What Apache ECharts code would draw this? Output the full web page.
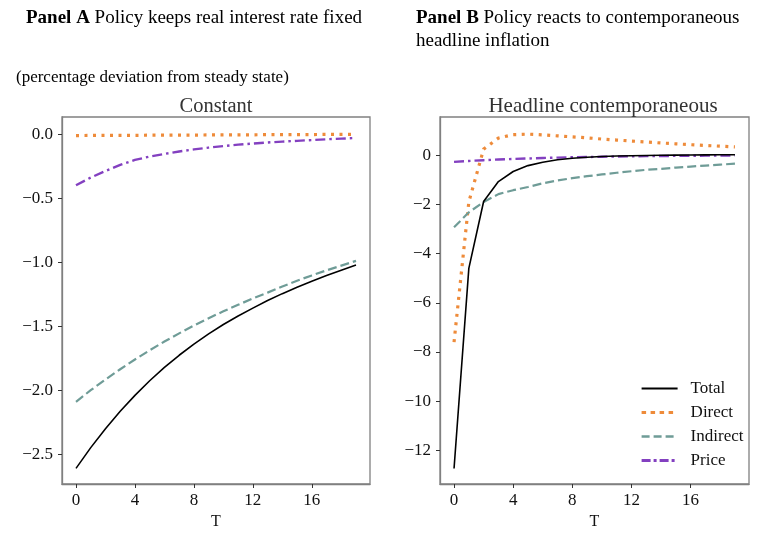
<!DOCTYPE html>
<html>
<head>
<meta charset="utf-8">
<script src="https://cdn.jsdelivr.net/npm/echarts@6/dist/echarts.min.js"></script>
<style>html,body{margin:0;padding:0;background:#fff}#c{width:781px;height:543px}</style>
</head>
<body>
<div id="c"></div>
<script>
// ---- data ----
const T = [0,1,2,3,4,5,6,7,8,9,10,11,12,13,14,15,16,17,18,19];
const xTicks = [0,4,8,12,16];

// Panel A: Constant
const totalA    = [-2.610,-2.448,-2.300,-2.164,-2.040,-1.926,-1.822,-1.727,-1.640,-1.560,-1.487,-1.420,-1.359,-1.300,-1.246,-1.196,-1.150,-1.105,-1.063,-1.023];
const directA   = [-0.012,-0.011,-0.011,-0.010,-0.010,-0.009,-0.009,-0.008,-0.008,-0.007,-0.007,-0.006,-0.006,-0.005,-0.005,-0.004,-0.004,-0.003,-0.003,-0.002];
const indirectA = [-2.090,-2.000,-1.916,-1.836,-1.760,-1.688,-1.620,-1.556,-1.495,-1.438,-1.384,-1.333,-1.284,-1.238,-1.190,-1.145,-1.104,-1.064,-1.027,-0.990];
const priceA    = [-0.400,-0.340,-0.288,-0.241,-0.202,-0.176,-0.155,-0.136,-0.120,-0.106,-0.094,-0.083,-0.074,-0.066,-0.059,-0.053,-0.047,-0.041,-0.036,-0.031];
const yTicksA   = [0,-0.5,-1,-1.5,-2,-2.5];

// Panel B: Headline contemporaneous
const totalB    = [-12.74,-4.60,-1.88,-1.07,-0.66,-0.42,-0.28,-0.18,-0.12,-0.08,-0.05,-0.03,-0.02,-0.01,0.00,0.005,0.01,0.015,0.02,0.02];
const directB   = [-7.60,-1.90,0.25,0.70,0.84,0.86,0.83,0.79,0.75,0.71,0.66,0.62,0.58,0.54,0.50,0.465,0.43,0.40,0.37,0.34];
const indirectB = [-2.93,-2.32,-1.90,-1.58,-1.42,-1.29,-1.14,-1.02,-0.93,-0.85,-0.78,-0.71,-0.65,-0.59,-0.55,-0.50,-0.46,-0.42,-0.38,-0.34];
const priceB    = [-0.27,-0.23,-0.20,-0.17,-0.15,-0.13,-0.11,-0.095,-0.08,-0.07,-0.06,-0.05,-0.04,-0.035,-0.03,-0.025,-0.02,-0.015,-0.01,-0.005];
const yTicksB   = [0,-2,-4,-6,-8,-10,-12];

const names = ['Total','Direct','Indirect','Price'];

// ---- styles ----
const FONT = 'Liberation Serif';
const styles = {
  Total:    {color:'#000000', width:1.6, type:'solid'},
  Direct:   {color:'#EE8B3A', width:3.2, type:[3,5.5]},
  Indirect: {color:'#6F9C97', width:2.2, type:[9,4]},
  Price:    {color:'#8340C0', width:2.4, type:[10,4,2.5,4]}
};
const legendStyles = {
  Total:    {color:'#000000', width:2, type:'solid'},
  Direct:   {color:'#EE8B3A', width:3.2, type:[4.5,4.5]},
  Indirect: {color:'#6F9C97', width:2.6, type:[8,4]},
  Price:    {color:'#8340C0', width:3, type:[9,3,3,3]}
};
const minus = s => String(s).replace('-', '\u2212');
const pairs = v => T.map((t,i)=>[t, v[i]]);

function mkSeries(name, vals, idx){
  const s = styles[name];
  return {
    name, type:'line', xAxisIndex:idx, yAxisIndex:idx,
    data: pairs(vals), showSymbol:false, symbol:'none', smooth:false,
    color: s.color,
    lineStyle:{color:s.color, width:s.width, type:s.type},
    itemStyle:{color:s.color},
    emphasis:{disabled:true}, animation:false, z: name==='Total'?5:3
  };
}

const FRAME = '#808080';
const gridCommon = {top:117, height:367, show:true, borderColor:FRAME, borderWidth:1.3, backgroundColor:'transparent'};
function xAxis(idx){
  return {
    type:'value', gridIndex:idx, min:-0.95, max:19.95,
    name:'T', nameLocation:'middle', nameGap:28,
    nameTextStyle:{fontFamily:FONT, fontSize:16, color:'#111'},
    axisLine:{show:true, onZero:false, lineStyle:{color:FRAME, width:1.3}}, splitLine:{show:false},
    axisTick:{show:true, inside:false, customValues:xTicks, length:4, lineStyle:{color:'#333', width:1}},
    axisLabel:{customValues:xTicks, fontFamily:FONT, fontSize:17, color:'#111', margin:8}
  };
}
function yAxis(idx, min, max, ticks, fmt){
  return {
    type:'value', gridIndex:idx, min, max,
    axisLine:{show:true, onZero:false, lineStyle:{color:FRAME, width:1.3}}, splitLine:{show:false},
    axisTick:{show:true, inside:false, customValues:ticks, length:4, lineStyle:{color:'#333', width:1}},
    axisLabel:{customValues:ticks, fontFamily:FONT, fontSize:17, color:'#111', margin:9, formatter:fmt}
  };
}

const chart = echarts.init(document.getElementById('c'), null, {renderer:'canvas'});
chart.setOption({
  animation:false,
  backgroundColor:'#fff',
  textStyle:{fontFamily:FONT},
  title:[
    {text:'{b|Panel A} Policy keeps real interest rate fixed', left:26, top:9, padding:0,
     textStyle:{fontFamily:FONT, fontSize:19, fontWeight:'normal', color:'#000',
       rich:{b:{fontFamily:FONT, fontSize:19, fontWeight:'bold', color:'#000'}}}},
    {text:'{b|Panel B} Policy reacts to contemporaneous\nheadline inflation', left:416, top:7, padding:0,
     textStyle:{fontFamily:FONT, fontSize:19, fontWeight:'normal', color:'#000', lineHeight:23,
       rich:{b:{fontFamily:FONT, fontSize:19, fontWeight:'bold', color:'#000', lineHeight:23}}}},
    {text:'(percentage deviation from steady state)', left:16, top:69, padding:0,
     textStyle:{fontFamily:FONT, fontSize:17, fontWeight:'normal', color:'#000'}},
    {text:'Constant', left:216, top:96, textAlign:'center', padding:0,
     textStyle:{fontFamily:FONT, fontSize:20.5, fontWeight:'normal', color:'#333'}},
    {text:'Headline contemporaneous', left:603, top:96, textAlign:'center', padding:0,
     textStyle:{fontFamily:FONT, fontSize:21, fontWeight:'normal', color:'#333'}}
  ],
  legend:{
    data:names.map(n=>({name:n, lineStyle:legendStyles[n]})),
    orient:'vertical', left:635, top:375, padding:5,
    itemWidth:36, itemHeight:12, itemGap:7,
    itemStyle:{opacity:0},
    textStyle:{fontFamily:FONT, fontSize:17, color:'#111', padding:[0,0,0,8]},
    selectedMode:false
  },
  grid:[
    Object.assign({left:62, width:308}, gridCommon),
    Object.assign({left:440, width:309}, gridCommon)
  ],
  xAxis:[xAxis(0), xAxis(1)],
  yAxis:[
    yAxis(0, -2.732, 0.133, yTicksA, v=>minus(v.toFixed(1))),
    yAxis(1, -13.37, 1.557, yTicksB, v=>minus(Math.round(v)))
  ],
  series:[
    mkSeries('Total', totalA, 0),
    mkSeries('Direct', directA, 0),
    mkSeries('Indirect', indirectA, 0),
    mkSeries('Price', priceA, 0),
    mkSeries('Total', totalB, 1),
    mkSeries('Direct', directB, 1),
    mkSeries('Indirect', indirectB, 1),
    mkSeries('Price', priceB, 1)
  ]
});
</script>
</body>
</html>
